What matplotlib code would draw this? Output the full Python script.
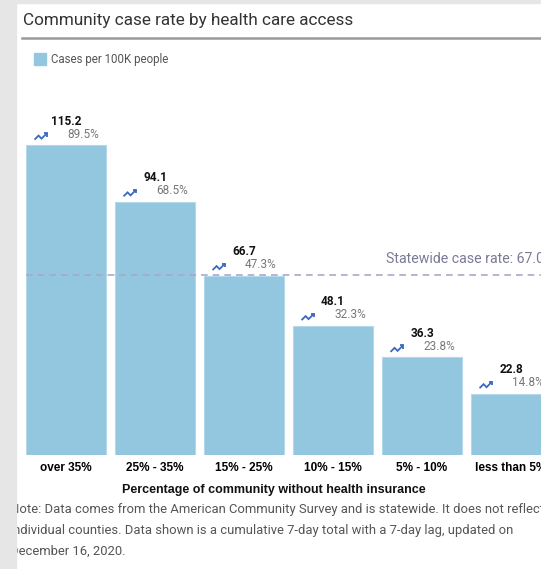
import matplotlib
matplotlib.use("Agg")
from matplotlib import pyplot as plt
from matplotlib.patches import Rectangle
import matplotlib.transforms as mtransforms

# DATOS DE LA GRAFICA
categories = ["over 35%", "25% - 35%", "15% - 25%", "10% - 15%", "5% - 10%", "less than 5%"]
cases = [115.2, 94.1, 66.7, 48.1, 36.3, 22.8]
change = ["89.5%", "68.5%", "47.3%", "32.3%", "23.8%", "14.8%"]
statewide = 67.0

title = "Community case rate by health care access"
legendLabel = "Cases per 100K people"
xLabel = "Percentage of community without health insurance"
note = ("Note: Data comes from the American Community Survey and is statewide. It does not reflect\n"
        "individual counties. Data shown is a cumulative 7-day total with a 7-day lag, updated on\n"
        "December 16, 2020.")

# COLORES
barColor = "#93c6df"
lineColor = "#a9a9cc"
iconColor = "#3b68c0"
grey = "#e6e6e6"

W, H = 541, 569
fig = plt.figure(figsize=(W / 100, H / 100), dpi=100)
fig.patch.set_facecolor("white")

def fx(px):
    return px / W

def fy(py):
    return 1 - py / H

# EJES: BARRAS DESDE x=26 px, BASE EN y=455 px
pxPerUnitX = 89
pxPerUnitY = 2.69
axLeft, axBottom, axTop = 26, 455, 100
ax = fig.add_axes([fx(axLeft), fy(axBottom), fx(W - axLeft), (axBottom - axTop) / H])
ax.set_xlim(-0.45, -0.45 + (W - axLeft) / pxPerUnitX)
ax.set_ylim(0, (axBottom - axTop) / pxPerUnitY)
for s in ax.spines.values():
    s.set_visible(False)
ax.set_yticks([])

xs = list(range(len(categories)))
ax.bar(xs, cases, width=0.9, color=barColor, edgecolor="#b5d8ea", linewidth=0.8, zorder=1)
ax.axhline(statewide, color=lineColor, lw=1.2, ls=(0, (4, 3)), zorder=2)
ax.text(3.6, statewide + 3.3, f"Statewide case rate: {statewide:.1f}", fontsize=10.2,
        family="Roboto", color="#7a7a98", ha="left", va="bottom", clip_on=False)

ax.set_xticks(xs)
ax.set_xticklabels(categories, fontsize=8.5, fontweight="bold", family="Liberation Sans")
ax.tick_params(axis="x", length=0, pad=5)

# ETIQUETAS SOBRE CADA BARRA
for x, v, c in zip(xs, cases, change):
    t = mtransforms.offset_copy(ax.transData, fig=fig, x=0, y=24, units="dots")
    ax.text(x, v, f"{v:.1f}", transform=t, ha="center", va="center", fontsize=8.5,
            fontweight="bold", family="Roboto", color="#111111")
    t2 = mtransforms.offset_copy(ax.transData, fig=fig, x=1, y=11, units="dots")
    ax.text(x, v, c, transform=t2, ha="left", va="center", fontsize=8.5,
            family="Roboto", color="#777777")
    # ICONO DE TENDENCIA (EN PIXELES RELATIVOS)
    ti = mtransforms.offset_copy(ax.transData, fig=fig, x=-25, y=9, units="dots")
    pts = [(-6.5, -3.5), (-2.5, 0.5), (0.5, -2.5), (6, 3)]
    arrow = [(2.5, 3), (6, 3), (6, -0.5)]
    for seg in (pts, arrow):
        ax.plot([x + p[0] / pxPerUnitX for p in seg], [v + p[1] / pxPerUnitY for p in seg],
                transform=ti, color=iconColor, lw=1.3, solid_capstyle="butt",
                solid_joinstyle="miter", clip_on=False)

fig.text(fx(274), fy(490), xLabel, fontsize=9, fontweight="bold", family="Liberation Sans",
         ha="center", va="center", color="#111111")

# TITULO, LINEA Y LEYENDA
fig.text(fx(23), fy(20), title, fontsize=12.3, family="Roboto",
         color="#333333", ha="left", va="center")
fig.add_artist(plt.Line2D([fx(22), 1], [fy(37.5), fy(37.5)], color="#9a9a9a", lw=1.8))
fig.add_artist(Rectangle((fx(34), fy(65)), fx(12), 12 / H, color=barColor))
fig.text(fx(51), fy(59), legendLabel, fontsize=8.3, family="Roboto", color="#555555",
         ha="left", va="center")

# NOTA
fig.text(fx(10), fy(503), note, fontsize=9.4, family="Roboto", color="#555555",
         ha="left", va="top", linespacing=1.8)

# BORDES GRISES DE LA CAPTURA
fig.add_artist(Rectangle((0, 0), fx(16), 1, color=grey, zorder=20))
fig.add_artist(Rectangle((0, fy(3)), 1, 3 / H, color=grey, zorder=20))

fig.savefig("out.png", dpi=100)
